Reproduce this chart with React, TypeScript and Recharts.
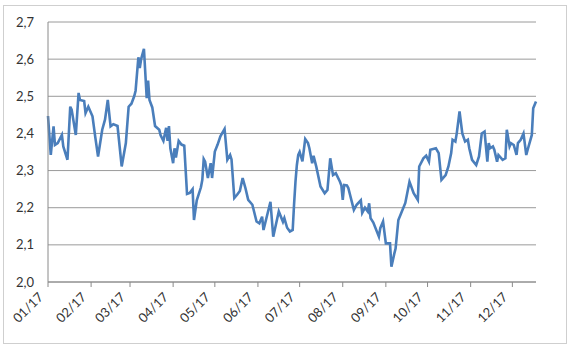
import { LineChart, Line, XAxis, YAxis, CartesianGrid } from "recharts"

// day of year (0 = 1 Jan 2017) and value
const days = [
  0, 2, 4, 5, 7, 10, 11, 14, 16, 17, 20, 22, 23, 26, 27, 29, 32, 34, 36, 39,
  41, 43, 45, 47, 50, 53, 56, 58, 60, 62, 63, 65, 66, 67, 69, 71, 72, 73, 75, 77,
  80, 81, 83, 85, 86, 87, 88, 90, 91, 92, 94, 96, 98, 100, 102, 104, 105, 107, 110, 111,
  112, 113, 115, 117, 118, 120, 122, 124, 127, 129, 131, 132, 134, 136, 138, 140, 142, 144, 147, 150,
  152, 154, 155, 160, 162, 166, 169, 170, 172, 174, 176, 177, 178, 179, 180, 181, 183, 185, 187, 188,
  190, 191, 193, 196, 199, 201, 203, 205, 207, 210, 211, 212, 213, 215, 216, 220, 222, 225, 226, 228,
  230, 231, 232, 234, 238, 239, 241, 243, 246, 247, 249, 250, 252, 254, 257, 260, 261, 263, 266, 267,
  270, 272, 274, 275, 279, 281, 283, 286, 288, 290, 291, 293, 294, 296, 298, 300, 302, 303, 305, 308,
  310, 312, 314, 316, 317, 318, 320, 321, 323, 324, 327, 329, 330, 332, 333, 335, 337, 338, 340, 342,
  344, 345, 348, 349, 351,
]
const values = [
  2.447, 2.342, 2.419, 2.369, 2.374, 2.396, 2.365, 2.329, 2.472, 2.464, 2.396, 2.509, 2.49, 2.487, 2.455, 2.472, 2.446, 2.39, 2.338, 2.41,
  2.437, 2.49, 2.419, 2.425, 2.42, 2.311, 2.374, 2.472, 2.48, 2.5, 2.515, 2.605, 2.576, 2.6, 2.628, 2.495, 2.542, 2.49, 2.47, 2.42,
  2.41, 2.395, 2.38, 2.415, 2.38, 2.42, 2.36, 2.32, 2.36, 2.335, 2.38, 2.37, 2.367, 2.237, 2.24, 2.25, 2.167, 2.22, 2.255, 2.275,
  2.331, 2.324, 2.28, 2.32, 2.28, 2.351, 2.37, 2.392, 2.412, 2.329, 2.342, 2.33, 2.226, 2.235, 2.245, 2.28, 2.253, 2.221, 2.208, 2.163,
  2.158, 2.176, 2.14, 2.216, 2.122, 2.19, 2.162, 2.172, 2.146, 2.136, 2.14, 2.21, 2.27, 2.315, 2.342, 2.35, 2.325, 2.385, 2.374, 2.36,
  2.32, 2.34, 2.31, 2.257, 2.239, 2.248, 2.333, 2.288, 2.293, 2.27, 2.26, 2.221, 2.261, 2.26, 2.253, 2.194, 2.208, 2.22, 2.186, 2.2,
  2.19, 2.212, 2.172, 2.16, 2.122, 2.145, 2.163, 2.104, 2.104, 2.041, 2.075, 2.09, 2.167, 2.185, 2.213, 2.27, 2.26, 2.239, 2.221, 2.311,
  2.333, 2.34, 2.324, 2.356, 2.36, 2.347, 2.275, 2.288, 2.311, 2.347, 2.383, 2.378, 2.4, 2.459, 2.4, 2.378, 2.383, 2.36, 2.329, 2.315,
  2.338, 2.4, 2.405, 2.324, 2.374, 2.36, 2.365, 2.356, 2.324, 2.342, 2.329, 2.333, 2.41, 2.365, 2.374, 2.369, 2.342, 2.374, 2.383, 2.4,
  2.342, 2.356, 2.396, 2.468, 2.486,
]

const monthStarts = [0, 31, 59, 90, 120, 151, 181, 212, 243, 273, 304, 334]
const monthLabels = ["01/17", "02/17", "03/17", "04/17", "05/17", "06/17", "07/17", "08/17", "09/17", "10/17", "11/17", "12/17"]
const yTicks = [2.0, 2.1, 2.2, 2.3, 2.4, 2.5, 2.6, 2.7]

const data = days.map((d, i) => ({ day: d, value: values[i] }))

const font = "Lato, 'Open Sans', sans-serif"

function MonthTick({ x, y, payload }: any) {
  const idx = monthStarts.indexOf(payload.value)
  return (
    <g transform={`translate(${x - 4},${y + 11}) rotate(-45)`}>
      <text x={0} y={0} textAnchor="end" fontSize={13} fontFamily={font} fill="#333">
        {monthLabels[idx]}
      </text>
    </g>
  )
}

export default function App() {
  return (
    <div style={{ position: "absolute", left: 0, top: 0, width: 570, height: 347, background: "#fff" }}>
      <div
        style={{
          position: "absolute",
          left: 3,
          top: 5,
          width: 562,
          height: 337,
          border: "1px solid #cfcfcf",
        }}
      />
      <LineChart width={570} height={347} data={data} margin={{ top: 22, right: 34, bottom: 0, left: 0 }}>
        <CartesianGrid vertical={false} stroke="#9a9a9a" />
        <XAxis
          dataKey="day"
          type="number"
          domain={[0, 351]}
          ticks={monthStarts}
          height={65}
          interval={0}
          tickSize={5}
          tickMargin={0}
          stroke="#8a8a8a"
          tick={<MonthTick />}
        />
        <YAxis
          type="number"
          domain={[2.0, 2.7]}
          ticks={yTicks}
          width={48}
          tickLine={false}
          tickSize={6}
          tickMargin={8}
          stroke="#8a8a8a"
          tick={{ fontSize: 13, fontFamily: font, fill: "#333" }}
          tickFormatter={(v: number) => v.toFixed(1).replace(".", ",")}
        />
        <Line
          dataKey="value"
          type="linear"
          stroke="#4a7ebb"
          strokeWidth={2.6}
          dot={false}
          isAnimationActive={false}
        />
      </LineChart>
    </div>
  )
}
